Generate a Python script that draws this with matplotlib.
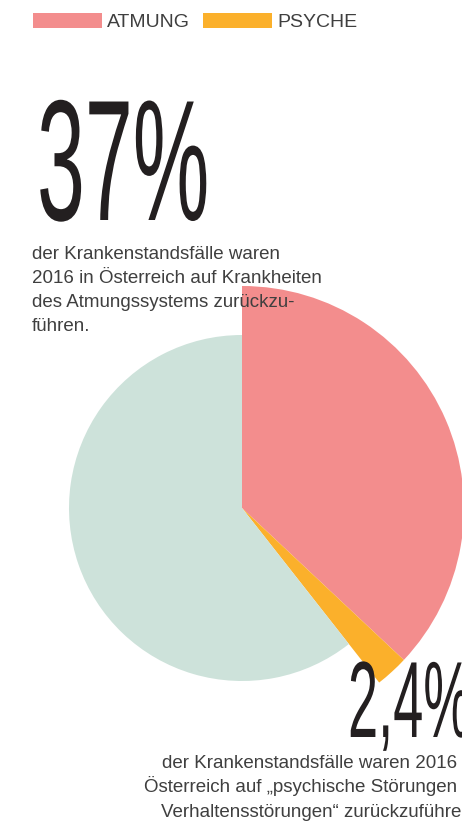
import matplotlib
matplotlib.use('Agg')
import matplotlib.pyplot as plt
from matplotlib.patheffects import AbstractPathEffect
from matplotlib.transforms import Affine2D

# data
labels = ['ATMUNG', 'PSYCHE', 'Sonstige']
shares = [37.0, 2.4, 60.6]
colors = ['#f38d8d', '#fbb02b', '#cde2da']
big_atmung = '37%'
big_psyche = '2,4%'
text_atmung = ['der Krankenstandsfälle waren',
               '2016 in Österreich auf Krankheiten',
               'des Atmungssystems zurückzu-',
               'führen.']
text_psyche = ['der Krankenstandsfälle waren 2016 in',
               'Österreich auf „psychische Störungen und',
               'Verhaltensstörungen“ zurückzuführen.']

W, H = 462, 823
body_font = ['Liberation Sans', 'DejaVu Sans']
big_font = ['Liberation Sans Narrow', 'Liberation Sans', 'DejaVu Sans']
text_col = '#3f3f3f'
big_col = '#231f20'


class Squeeze(AbstractPathEffect):
    '''narrow the glyphs horizontally around the text origin'''
    def __init__(self, sx):
        super().__init__()
        self.sx = sx

    def draw_path(self, renderer, gc, tpath, affine, rgbFace=None):
        x0, y0 = affine.transform((0, 0))
        sq = Affine2D().translate(-x0, 0).scale(self.sx, 1).translate(x0, 0)
        renderer.draw_path(gc, tpath, affine + sq, rgbFace)


fig = plt.figure(figsize=(W/100, H/100), dpi=100)
ax = fig.add_axes([0, 0, 1, 1])

wedges, _ = ax.pie(shares, colors=colors, startangle=90, counterclock=False,
                   center=(242, H-508), radius=222,
                   wedgeprops=dict(linewidth=0))
wedges[2].set_radius(173)
ax.set_xlim(0, W)
ax.set_ylim(0, H)
ax.set_aspect('equal')
ax.axis('off')

# legend
leg = ax.legend(wedges[:2], labels[:2], loc='upper left',
                bbox_to_anchor=(33/W, 1-13/H), ncol=2, frameon=False,
                borderpad=0, borderaxespad=0, handlelength=3.55,
                handleheight=0.82, handletextpad=0.26, columnspacing=0.67,
                prop=dict(family=body_font, size=14))
for t in leg.get_texts():
    t.set_color(text_col)

# big numbers
ax.text(37, H-220, big_atmung, fontsize=124, family=big_font, color=big_col,
        va='baseline', ha='left', path_effects=[Squeeze(0.5)])
ax.text(348, H-737, big_psyche, fontsize=78, family=big_font, color=big_col,
        va='baseline', ha='left', path_effects=[Squeeze(0.5)])

# descriptions
for i, line in enumerate(text_atmung):
    ax.text(32, H-(259+24*i), line, fontsize=13.5, family=body_font,
            color=text_col, va='baseline', ha='left')
for i, line in enumerate(text_psyche):
    ax.text(319, H-(768+24.5*i), line, fontsize=13.5, family=body_font,
            color=text_col, va='baseline', ha='center')

plt.savefig('out.png', dpi=100)
